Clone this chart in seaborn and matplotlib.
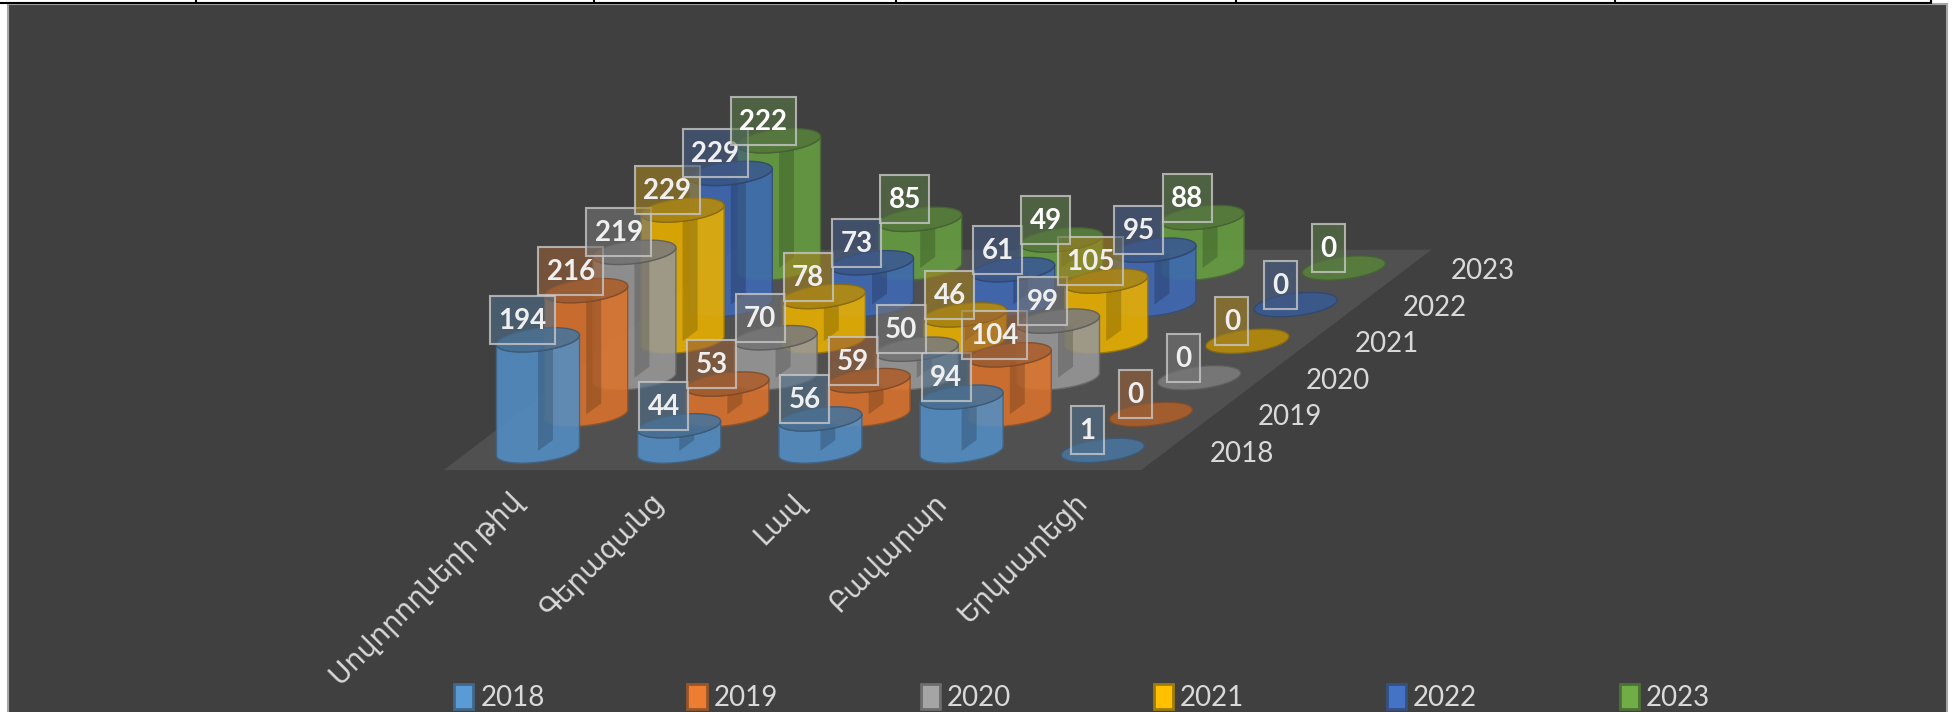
import numpy as np
import pandas as pd
import matplotlib
matplotlib.use("Agg")
import matplotlib.pyplot as plt
from matplotlib.colors import to_rgba
from matplotlib.patches import Polygon, Patch
import seaborn as sns

categories = ["Սովորողների թիվ", "Գերազանց", "Լավ", "Բավարար", "Երկսարեցի"]
years = ["2018", "2019", "2020", "2021", "2022", "2023"]
v2018 = [194, 44, 56, 94, 1]
v2019 = [216, 53, 59, 104, 0]
v2020 = [219, 70, 50, 99, 0]
v2021 = [229, 78, 46, 105, 0]
v2022 = [229, 73, 61, 95, 0]
v2023 = [222, 85, 49, 88, 0]
colors = ["#5B9BD5", "#ED7D31", "#A5A5A5", "#FFC000", "#4472C4", "#70AD47"]
table_ticks = [196, 594, 896, 1236, 1615, 1931]

df = pd.DataFrame({"category": categories, "2018": v2018, "2019": v2019, "2020": v2020,
                   "2021": v2021, "2022": v2022, "2023": v2023})
df = df.melt(id_vars="category", var_name="year", value_name="count")

# oblique floor projection, pixels of the 1952x712 picture
def project(cat, row, val=0):
    return 538 + 141.2 * cat + 48.2 * row, 451 - 36.6 * row - 0.573 * val

sns.set_theme(style="white")
plt.rcParams["font.family"] = ["Lato", "DejaVu Sans"]

fig, ax = plt.subplots(figsize=(19.52, 7.12), dpi=100)
fig.subplots_adjust(0, 0, 1, 1)
ax.set_xlim(0, 1952)
ax.set_ylim(712, 0)
ax.axis("off")
fig.patch.set_facecolor("white")

ax.add_patch(Polygon([(8, 4), (1947, 4), (1947, 714), (8, 714)], fc="#404040", ec="#A6A6A6", lw=1.5, zorder=0))
# table rule over the chart
ax.plot([0, 8], [3, 3], color="black", lw=1.5, zorder=1)
ax.plot([8, 1931], [2.5, 2.5], color="black", lw=1.5, zorder=1)
for x in table_ticks:
    ax.plot([x, x], [0, 2.5], color="black", lw=1.5, zorder=1)

# floor
fl = [project(-0.49, -0.52), project(4.45, -0.52), project(4.45, 5.5), project(-0.49, 5.5)]
ax.add_patch(Polygon(fl, fc="#505050", ec="none", zorder=1))

t = np.linspace(0, 2 * np.pi, 80)
A, KX, KY = 38.3, 16.0, 12.15


def ring(cx, cy, tt):
    return np.column_stack([cx + A * np.cos(tt) + KX * np.sin(tt), cy - KY * np.sin(tt)])


t0 = np.arctan2(KX, A)
front = np.linspace(t0 + 2 * np.pi, t0 + np.pi, 50)  # right extreme, under, left extreme

z = 2
for row, year in reversed(list(enumerate(years))):
    col = colors[row]
    shades = sns.dark_palette(col, n_colors=10)
    for cat, name in enumerate(categories):
        val = df[(df.category == name) & (df.year == year)]["count"].iloc[0]
        bx, by = project(cat, row)
        tx, ty = project(cat, row, val)
        z += 1
        if val > 1:
            lower = ring(bx, by, front)
            upper = ring(tx, ty, front[::-1])
            ax.add_patch(Polygon(np.vstack([lower, upper]), fc=col, ec=shades[5], lw=1, alpha=0.88, zorder=z))
            ax.add_patch(Polygon(np.vstack([lower, upper]), fc="black", ec="none", alpha=0.07, zorder=z))
            # inner seam seen through the glass
            seam = [(tx, ty + 8), (tx + 15, ty + 2), (tx + 15, by - 11), (tx, by)]
            ax.add_patch(Polygon(seam, fc="black", ec="none", alpha=0.18, zorder=z))
        ax.add_patch(Polygon(ring(tx, ty, t), fc=shades[6], ec=shades[4], lw=1, alpha=0.9, zorder=z))

# data labels over everything
for row, year in enumerate(years):
    col = colors[row]
    text_col = "white" if year == "2023" else "#EFEFEF"
    for cat, name in enumerate(categories):
        val = df[(df.category == name) & (df.year == year)]["count"].iloc[0]
        tx, ty = project(cat, row, val)
        digits = len(str(val))
        w = 17 + 16 * digits
        lx = tx - 16 + w / 2 - 8 * (digits - 1) - 16
        ly = ty - 20
        z += 1
        bg = sns.blend_palette(["#404040", col], 3)[1]
        ax.add_patch(Polygon([(lx - w / 2, ly - 24), (lx + w / 2, ly - 24), (lx + w / 2, ly + 24), (lx - w / 2, ly + 24)],
                             fc=to_rgba(bg, 0.62), ec=to_rgba("#C8C8C8", 0.8), lw=1.5, zorder=z))
        ax.text(lx, ly + 1, str(val), color=text_col, fontsize=20, fontweight="bold", ha="center", va="center", zorder=z + 0.5)

# depth axis
for row, year in enumerate(years):
    x, y = project(4, row)
    ax.text(x + 139, y + 3, year, color="#D9D9D9", fontsize=20, ha="center", va="center", zorder=z + 1)

# category axis
for cat, name in enumerate(categories):
    x, _ = project(cat, 0)
    ax.text(x - 19, 498, name, color="#D9D9D9", fontsize=20, rotation=45, ha="right", va="center",
            rotation_mode="anchor", zorder=z + 1)

handles = [Patch(fc=c, ec=sns.dark_palette(c, n_colors=10)[5], lw=2) for c in colors]
ax.legend(handles, years, frameon=False)
sns.move_legend(ax, "lower left", bbox_to_anchor=(429 / 1952, -0.034), ncol=6, fontsize=20, labelcolor="#D9D9D9",
                handlelength=0.7, handleheight=1.0, handletextpad=0.25, columnspacing=5.13, frameon=False, title=None)

fig.savefig("out.png", dpi=100)
